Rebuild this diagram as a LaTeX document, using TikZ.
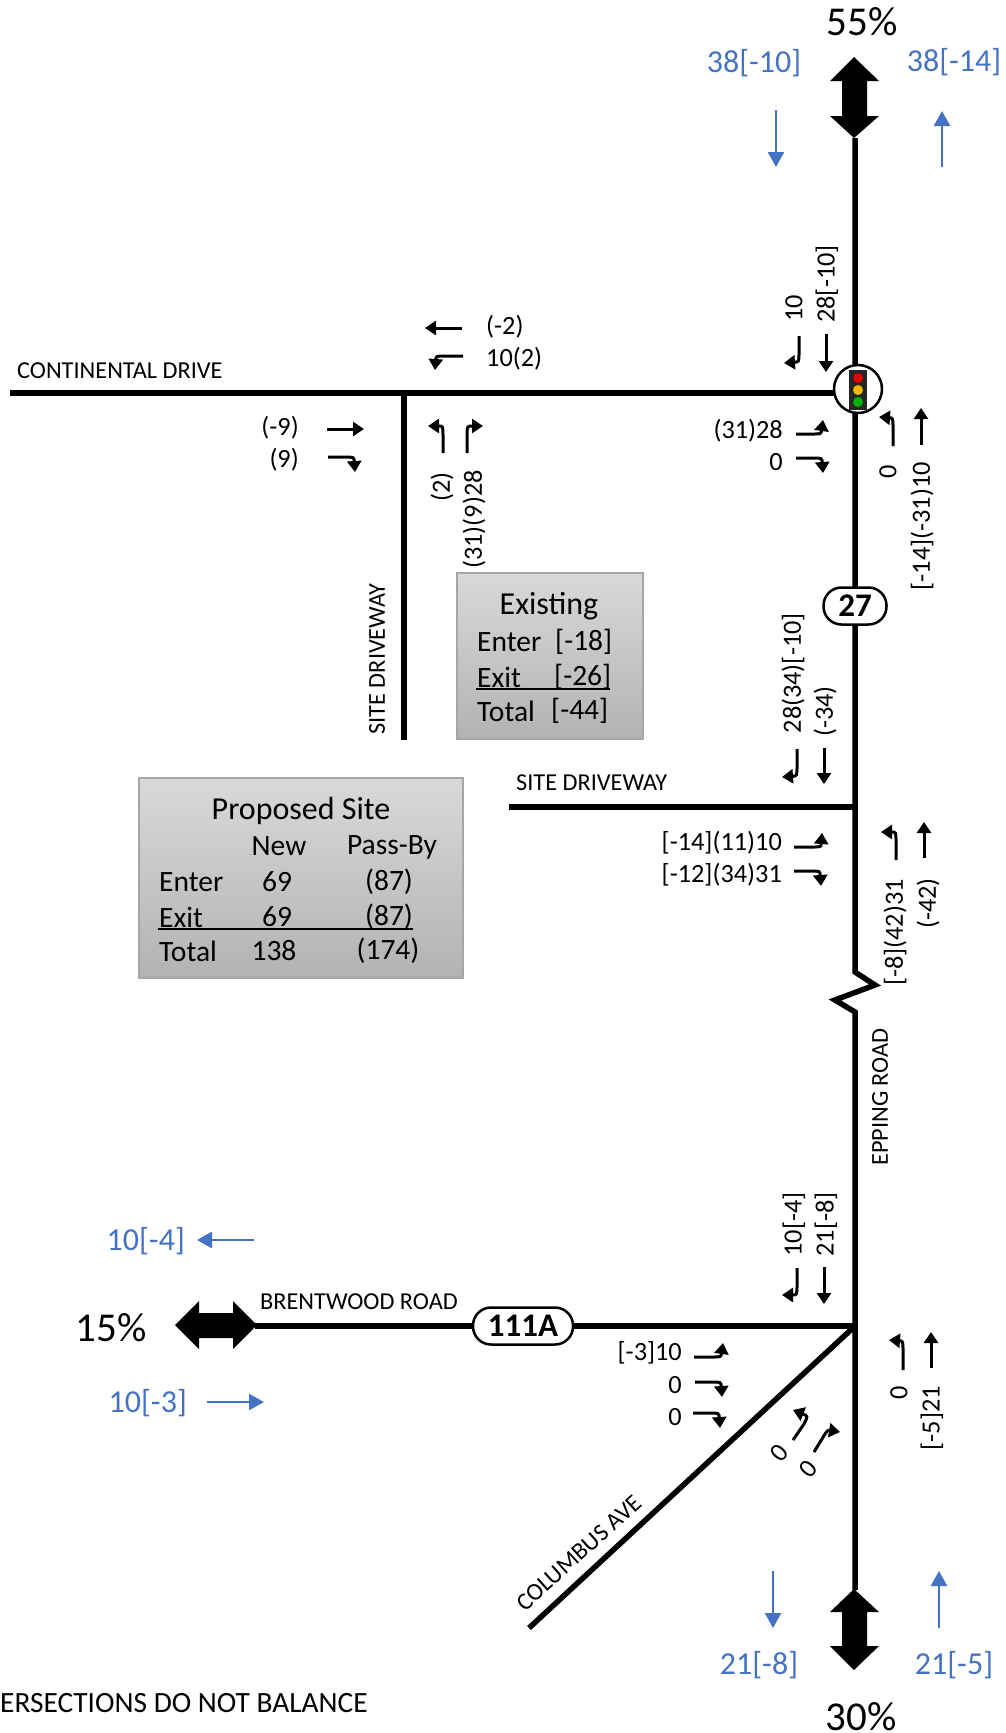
\documentclass[tikz,border=0pt]{standalone}
\usepackage{fontspec}
\setmainfont{Carlito}
\usetikzlibrary{arrows.meta}
\definecolor{flowblue}{HTML}{4472C4}
\definecolor{lampamber}{HTML}{F2B800}
\newcommand{\fs}[1]{\fontsize{#1}{#1}\selectfont}
\tikzset{
  road/.style={line width=5.5pt,black,line join=miter},
  mv/.style={line width=3pt,black,-{Triangle[length=11pt,width=14pt]}},
  flow/.style={line width=2.5pt,flowblue,-{Triangle[length=15pt,width=16pt]}},
  vol/.style={inner sep=0pt,font=\fs{26.3},text=black},
  volr/.style={vol,rotate=90,anchor=east},
  volw/.style={vol,anchor=east},
  vole/.style={vol,anchor=west},
  lbl/.style={inner sep=0pt,font=\fs{24.3},text=black},
  bluetxt/.style={inner sep=0pt,font=\fs{32},text=flowblue},
  pct/.style={inner sep=0pt,font=\fs{41},text=black},
  shield/.style={draw=black,line width=2.5pt,fill=white,rounded corners=18pt,inner sep=0pt,font=\fs{33}\bfseries,text=black},
  greybox/.style={draw=black!35,line width=1.5pt,top color=black!15,bottom color=black!30},
  boxt/.style={inner sep=0pt,font=\fs{29.5},text=black},
  dblarrow/.style={fill=black,draw=none},
}
\begin{document}
\begin{tikzpicture}[x=1pt,y=-1pt]
\useasboundingbox (0,0) rectangle (1005,1733);
% free ends of the roads
\coordinate (contW) at (10,393);
\coordinate (contE) at (852,393);
\coordinate (contJ) at (404,393);
\coordinate (sdS) at (404,740);
\coordinate (sd2W) at (509,807);
\coordinate (sd2E) at (855,807);
\coordinate (mainN) at (855,138);
\coordinate (mainZ) at (855,972);
\coordinate (mainY) at (855,1012);
\coordinate (mainS) at (855,1590);
\coordinate (brW) at (255,1326);
\coordinate (brE) at (855,1326);
\coordinate (colS) at (529,1628);
% roads
\draw[road] (mainN) -- (mainZ) -- (875,985) -- (835,1000) -- (mainY) -- (mainS);
\draw[road] (contW) -- (contE);
\draw[road] (contJ) -- (sdS);
\draw[road] (sd2W) -- (sd2E);
\draw[road] (brW) -- (brE);
\draw[road] (brE) -- (colS);
% double arrows
\fill[dblarrow] (854,57) -- (879,81) -- (867,81) -- (867,116) -- (879,116) -- (854,138) -- (830,116) -- (842,116) -- (842,81) -- (830,81) -- cycle;
\fill[dblarrow] (854,1589) -- (879,1612) -- (867,1612) -- (867,1646) -- (879,1646) -- (854,1670) -- (830,1646) -- (842,1646) -- (842,1612) -- (830,1612) -- cycle;
\fill[dblarrow] (175,1325) -- (199,1301) -- (199,1313) -- (233,1313) -- (233,1301) -- (257,1325) -- (233,1349) -- (233,1338) -- (199,1338) -- (199,1349) -- cycle;
% signal
\node[circle,draw=black,fill=white,line width=2.5pt,minimum size=48pt,inner sep=0pt] (sig) at (858,389) {};
\fill[black!85] (849,370) rectangle (867,410);
\fill[red!90!black] (858,378) circle (5pt);
\fill[lampamber] (858,390) circle (5pt);
\fill[green!70!black] (858,402) circle (5pt);
% shields
\node[shield,minimum width=63pt,minimum height=37pt] (s27) at (855,606) {27};
\node[shield,minimum width=100pt,minimum height=37pt] (s111) at (523,1326) {111A};
% boxes
\filldraw[greybox] (457,573) rectangle (643,739);
\filldraw[greybox] (139,778) rectangle (463,978);
\node[boxt,font=\fs{32}] (exT) at (549,606) {Existing};
\node[boxt,anchor=west] (ex1) at (477,642) {Enter};
\node[boxt,anchor=west] (ex1v) at (555,642) {[-18]};
\node[boxt,anchor=west] (ex2) at (477,677) {Exit};
\node[boxt,anchor=west] (ex2v) at (554,677) {[-26]};
\node[boxt,anchor=west] (ex3) at (477,711) {Total};
\node[boxt,anchor=west] (ex3v) at (551,711) {[-44]};
\draw[line width=1.5pt] (476,689) -- (610,689);
\node[boxt,font=\fs{32}] (prT) at (301,811) {Proposed Site};
\node[boxt] (prN) at (279,846) {New};
\node[boxt] (prP) at (392,847) {Pass-By};
\node[boxt,anchor=west] (pr1) at (159,882) {Enter};
\node[boxt] (pr1a) at (277,882) {69};
\node[boxt] (pr1b) at (389,882) {(87)};
\node[boxt,anchor=west] (pr2) at (159,917) {Exit};
\node[boxt] (pr2a) at (277,917) {69};
\node[boxt] (pr2b) at (389,917) {(87)};
\draw[line width=1.5pt] (158,929) -- (413,929);
\node[boxt,anchor=west] (pr3) at (159,951) {Total};
\node[boxt] (pr3a) at (274,951) {138};
\node[boxt] (pr3b) at (388,951) {(174)};
% road labels
\node[lbl,anchor=west] (lCont) at (17,371) {CONTINENTAL DRIVE};
\node[lbl,rotate=90] (lSd1) at (377,659) {SITE DRIVEWAY};
\node[lbl,anchor=west] (lSd2) at (516,783) {SITE DRIVEWAY};
\node[lbl,rotate=90] (lEp) at (880,1097) {EPPING ROAD};
\node[lbl,anchor=west] (lBr) at (260,1302) {BRENTWOOD ROAD};
\node[lbl,rotate=42] (lCo) at (579,1553) {COLUMBUS AVE};
\node[lbl,anchor=west,font=\fs{29.4}] (lNote) at (0,1703) {ERSECTIONS DO NOT BALANCE};
% percentages
\node[pct] (p55) at (862,22) {55\%};
\node[pct] (p15) at (111,1328) {15\%};
\node[pct] (p30) at (861,1717) {30\%};
% blue flows
\node[bluetxt] (b1) at (754,63) {38[-10]};
\node[bluetxt] (b2) at (954,62) {38[-14]};
\node[bluetxt,anchor=east] (b3) at (185,1241) {10[-4]};
\node[bluetxt,anchor=east] (b4) at (187,1403) {10[-3]};
\node[bluetxt] (b5) at (759,1665) {21[-8]};
\node[bluetxt] (b6) at (954,1665) {21[-5]};
\draw[flow] (776,110) -- (776,167);
\draw[flow] (942,167) -- (942,111);
\draw[flow] (254,1240) -- (197,1240);
\draw[flow] (207,1402) -- (264,1402);
\draw[flow] (773,1571) -- (773,1628);
\draw[flow] (939,1628) -- (939,1571);
% volumes: signal
\node[volr] (v1) at (794,295) {10};
\node[volr] (v2) at (827,245) {28[-10]};
\node[volw] (v3) at (783,431) {(31)28};
\node[volw] (v4) at (783,462) {0};
\node[volr] (v5) at (888,465) {0};
\node[volr] (v6) at (922,462) {[-14](-31)10};
\draw[mv] (799,336) -- (799,352) .. controls (799,362) .. (784,363);
\draw[mv] (826,334) -- (826,372);
\draw[mv] (796,434) -- (812,434) .. controls (821,434) .. (823,420);
\draw[mv] (796,458) -- (812,458) .. controls (822,458) .. (823,473);
\draw[mv] (893,446) -- (893,428) .. controls (893,418) .. (879,417);
\draw[mv] (921,445) -- (921,408);
% volumes: continental / site
\node[vole] (v7) at (486,327) {(-2)};
\node[vole] (v8) at (486,359) {10(2)};
\node[volw] (v9) at (299,428) {(-9)};
\node[volw] (v10) at (299,460) {(9)};
\node[volr] (v11) at (442,472) {(2)};
\node[volr] (v12) at (474,470) {(31)(9)28};
\draw[mv] (462,328) -- (425,328);
\draw[mv] (463,356) -- (446,356) .. controls (436,356) .. (435,370);
\draw[mv] (327,429) -- (364,429);
\draw[mv] (328,457) -- (344,457) .. controls (354,457) .. (355,472);
\draw[mv] (443,453) -- (443,436) .. controls (443,426) .. (428,426);
\draw[mv] (467,453) -- (467,436) .. controls (467,426) .. (483,426);
% volumes: site driveway
\node[volr] (v13) at (793,613) {28(34)[-10]};
\node[volr] (v14) at (825,686) {(-34)};
\node[volw] (v15) at (782,843) {[-14](11)10};
\node[volw] (v16) at (782,875) {[-12](34)31};
\node[volr] (v17) at (895,879) {[-8](42)31};
\node[volr] (v18) at (928,878) {(-42)};
\draw[mv] (797,749) -- (797,766) .. controls (797,776) .. (782,777);
\draw[mv] (824,748) -- (824,784);
\draw[mv] (794,847) -- (812,847) .. controls (821,847) .. (822,833);
\draw[mv] (794,871) -- (810,871) .. controls (820,871) .. (821,886);
\draw[mv] (896,860) -- (896,842) .. controls (896,832) .. (881,832);
\draw[mv] (924,858) -- (924,822);
% volumes: bottom
\node[volr] (v19) at (794,1192) {10[-4]};
\node[volr] (v20) at (826,1192) {21[-8]};
\node[volw] (v21) at (682,1353) {[-3]10};
\node[volw] (v22) at (682,1385) {0};
\node[volw] (v23) at (682,1417) {0};
\node[volr] (v24) at (899,1386) {0};
\node[volr] (v25) at (932,1386) {[-5]21};
\node[vol,rotate=50] (v26) at (779,1453) {0};
\node[vol,rotate=50] (v27) at (808,1469) {0};
\draw[mv] (797,1268) -- (797,1285) .. controls (797,1295) .. (782,1295);
\draw[mv] (824,1267) -- (824,1304);
\draw[mv] (694,1357) -- (712,1357) .. controls (721,1357) .. (723,1343);
\draw[mv] (695,1382) -- (711,1382) .. controls (721,1382) .. (722,1397);
\draw[mv] (693,1413) -- (709,1413) .. controls (719,1413) .. (720,1428);
\draw[mv] (903,1370) -- (903,1351) .. controls (903,1341) .. (889,1340);
\draw[mv] (931,1368) -- (931,1332);
\draw[mv] (793,1440) -- (804,1424) .. controls (808,1416) .. (793,1410);
\draw[mv] (814,1452) -- (825,1434) .. controls (828,1430) .. (840,1432);
\end{tikzpicture}
\end{document}
